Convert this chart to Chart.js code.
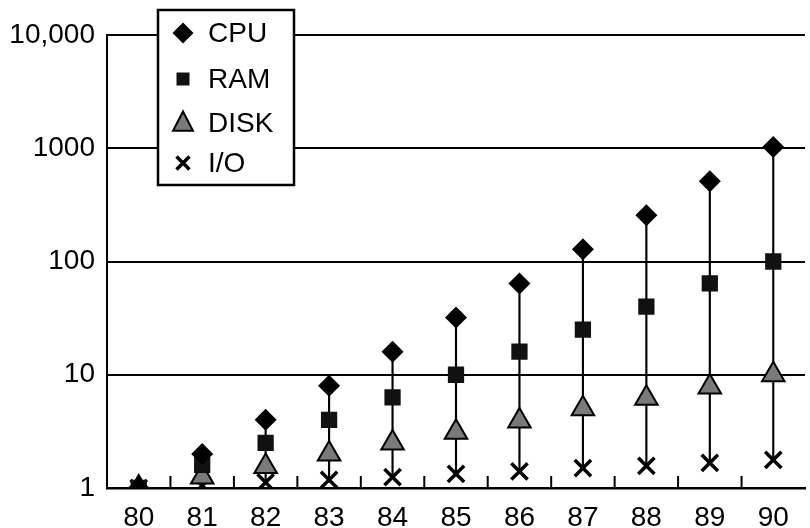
<!DOCTYPE html>
<html>
<head>
<meta charset="utf-8">
<script src="https://cdn.jsdelivr.net/npm/chart.js@4/dist/chart.umd.min.js"></script>
<style>
  html, body { margin: 0; padding: 0; background: #fff; overflow: hidden; }
  #wrap { position: relative; width: 820px; height: 528px; }
</style>
</head>
<body>
<div id="wrap"><canvas id="c"></canvas></div>
<script>
const years = ['80','81','82','83','84','85','86','87','88','89','90'];
const cpu  = [1, 2, 4, 8, 16, 32, 64, 128, 256, 512, 1024];
const ram  = [1, 1.6, 2.5, 4, 6.3, 10, 16, 25, 40, 64, 100];
const disk = [1, 1.25, 1.55, 2, 2.5, 3.1, 3.9, 5, 6.2, 7.8, 10];
const io   = [1, 1.05, 1.12, 1.18, 1.25, 1.33, 1.4, 1.5, 1.57, 1.67, 1.77];
const yTicks = [1, 10, 100, 1000, 10000];
const yTickLabels = ['1', '10', '100', '1000', '10,000'];
const seriesNames = ['CPU', 'RAM', 'DISK', 'I/O'];

const FONT = "'Liberation Sans', Arial, Helvetica, sans-serif";

const legendPlugin = {
  id: 'boxLegend',
  afterDraw(chart) {
    const ctx = chart.ctx;
    ctx.save();
    const bx = 158, by = 10, bw = 136, bh = 175;
    ctx.fillStyle = '#fff';
    ctx.fillRect(bx, by, bw, bh);
    ctx.lineWidth = 2.5;
    ctx.strokeStyle = '#000';
    ctx.strokeRect(bx, by, bw, bh);
    const rows = [33, 79, 123, 163];
    const mx = 183, tx = 208;
    ctx.font = "28px " + FONT;
    ctx.textBaseline = 'middle';
    ctx.textAlign = 'left';
    chart.data.datasets.filter(d => d.type === 'line').forEach((d, i) => {
      const y = rows[i];
      ctx.beginPath();
      ctx.lineJoin = 'miter';
      if (d.pointStyle === 'rectRot') {
        const r = 10.5;
        ctx.moveTo(mx, y - r); ctx.lineTo(mx + r, y); ctx.lineTo(mx, y + r); ctx.lineTo(mx - r, y); ctx.closePath();
        ctx.fillStyle = '#000'; ctx.fill();
      } else if (d.pointStyle === 'rect') {
        const s = 6.5;
        ctx.rect(mx - s, y - s, 2 * s, 2 * s);
        ctx.fillStyle = '#111'; ctx.fill();
      } else if (d.pointStyle === 'triangle') {
        const r = 11.5;
        ctx.moveTo(mx, y - r);
        ctx.lineTo(mx + r * 0.866, y + r * 0.5 + 2);
        ctx.lineTo(mx - r * 0.866, y + r * 0.5 + 2);
        ctx.closePath();
        ctx.fillStyle = d.pointBackgroundColor; ctx.fill();
        ctx.lineWidth = 2; ctx.strokeStyle = '#000'; ctx.stroke();
      } else {
        const s = 6.5;
        ctx.moveTo(mx - s, y - s); ctx.lineTo(mx + s, y + s);
        ctx.moveTo(mx + s, y - s); ctx.lineTo(mx - s, y + s);
        ctx.lineWidth = 3.5; ctx.strokeStyle = '#000'; ctx.stroke();
      }
      ctx.fillStyle = '#000';
      ctx.fillText(d.label, tx, y + 1);
    });
    ctx.restore();
  }
};

const tickPlugin = {
  id: 'innerTicks',
  afterDatasetsDraw(chart) {
    const xs = chart.scales.x;
    const ctx = chart.ctx;
    const bottom = chart.chartArea.bottom;
    ctx.save();
    ctx.strokeStyle = '#000';
    ctx.lineWidth = 2;
    for (let i = 0; i < years.length - 1; i++) {
      const x = (xs.getPixelForValue(i) + xs.getPixelForValue(i + 1)) / 2;
      ctx.beginPath();
      ctx.moveTo(x, bottom);
      ctx.lineTo(x, bottom - 12);
      ctx.stroke();
    }
    ctx.restore();
  }
};

new Chart(document.getElementById('c'), {
  data: {
    labels: years,
    datasets: [
      { type: 'line', label: seriesNames[0], data: cpu, showLine: false, pointStyle: 'rectRot',
        pointRadius: 11, pointBackgroundColor: '#000', pointBorderColor: '#000', pointBorderWidth: 0, order: 0 },
      { type: 'line', label: seriesNames[1], data: ram, showLine: false, pointStyle: 'rect',
        pointRadius: 11.5, pointBackgroundColor: '#111', pointBorderColor: '#000', pointBorderWidth: 0, order: 0 },
      { type: 'line', label: seriesNames[2], data: disk, showLine: false, pointStyle: 'triangle',
        pointRadius: 13, pointBackgroundColor: '#7a7a7a', pointBorderColor: '#000', pointBorderWidth: 2, order: 0 },
      { type: 'line', label: seriesNames[3], data: io, showLine: false, pointStyle: 'crossRot',
        pointRadius: 11.5, pointBackgroundColor: '#000', pointBorderColor: '#000', pointBorderWidth: 3.5, order: 0 },
      { type: 'bar', label: 'range', data: io.map((v, i) => [v, cpu[i]]), backgroundColor: '#000',
        borderWidth: 0, barThickness: 1.5, order: 1 }
    ]
  },
  options: {
    responsive: true,
    maintainAspectRatio: false,
    animation: false,
    events: [],
    layout: { padding: { left: 0, right: 6, top: 35, bottom: 0 } },
    plugins: { legend: { display: false }, tooltip: { enabled: false } },
    scales: {
      x: {
        type: 'category',
        offset: true,
        grid: { display: false, drawTicks: false },
        border: { display: true, color: '#000', width: 2.5 },
        ticks: { color: '#000', font: { family: FONT, size: 28 }, padding: 13, maxRotation: 0, autoSkip: false },
        afterFit(s) { s.height = 40; }
      },
      y: {
        type: 'logarithmic',
        min: 1,
        max: 10000,
        afterBuildTicks(axis) { axis.ticks = yTicks.map(v => ({ value: v })); },
        grid: { color: '#000', lineWidth: 2, drawTicks: false },
        border: { display: true, color: '#000', width: 2 },
        ticks: {
          color: '#000', font: { family: FONT, size: 28 }, padding: 12,
          callback(v) { const k = yTicks.indexOf(v); return k >= 0 ? yTickLabels[k] : ''; }
        },
        afterFit(s) { s.width = 107; }
      }
    }
  },
  plugins: [tickPlugin, legendPlugin]
});
</script>
</body>
</html>
